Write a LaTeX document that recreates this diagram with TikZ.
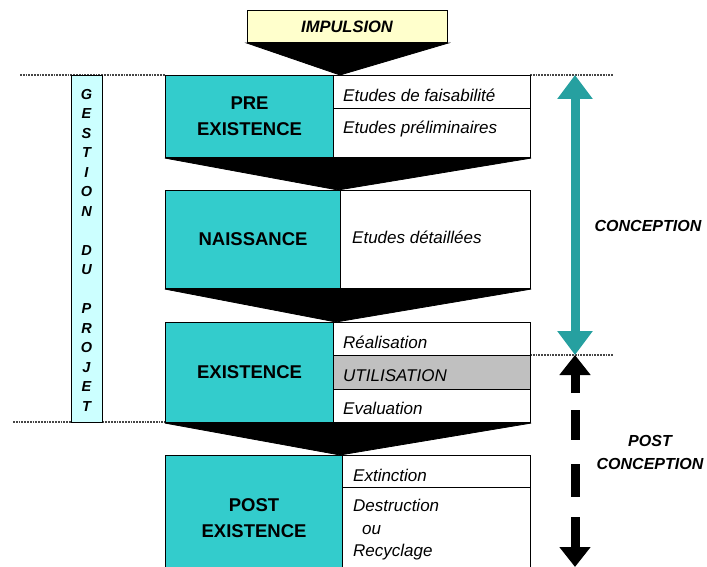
\documentclass[tikz,border=0pt]{standalone}
\usepackage{fontspec}
\setmainfont{Liberation Sans}
\usetikzlibrary{arrows.meta}
\definecolor{tealbox}{RGB}{51,204,204}
\definecolor{tealarrow}{RGB}{38,160,160}
\definecolor{lightcyan}{RGB}{204,255,255}
\definecolor{lightyellow}{RGB}{255,255,204}
\definecolor{rowgray}{RGB}{192,192,192}
\begin{document}
\begin{tikzpicture}[x=1pt,y=-1pt,
  phase/.style={draw=black, line width=1.1, fill=tealbox, anchor=north west, inner sep=0, align=center,
    font=\fontsize{18.5}{26}\selectfont\bfseries},
  rowbox/.style={draw=black, line width=1.1, fill=white, anchor=north west, inner sep=0},
  itxt/.style={anchor=base west, inner sep=0, font=\fontsize{17}{19}\selectfont\itshape},
  bitxt/.style={inner sep=0, font=\fontsize{16}{23}\selectfont\bfseries\itshape, align=center},
  funnel/.style={fill=black, draw=black, line width=0.8, line join=miter},
  guide/.style={draw=gray!55!black, line width=1.8, densely dotted},
  tealarr/.style={draw=tealarrow, line width=9},
  blkarr/.style={draw=black, line width=9},
]
\useasboundingbox (0,0) rectangle (707,567);
\clip (0,0) rectangle (707,567);

% guide lines
\draw[guide] (20,75) -- (165,75);
\draw[guide] (530,75) -- (613,75);
\draw[guide] (530,355) -- (613,355);
\draw[guide] (13,422) -- (165,422);

% project management bar
\node[draw=black, line width=1.1, fill=lightcyan, anchor=north west, inner sep=0,
      minimum width=31, minimum height=347] (gestion) at (71,75) {};
\node[inner sep=0, align=center, font=\fontsize{14.5}{19.5}\selectfont\bfseries\itshape] (gestiontxt) at (86.5,250)
  {G\\E\\S\\T\\I\\O\\N\\[19.5pt]D\\U\\[19.5pt]P\\R\\O\\J\\E\\T};

% impulsion
\node[draw=black, line width=1.1, fill=lightyellow, anchor=north west, inner sep=0,
      minimum width=200, minimum height=32] (imp) at (247,10) {};
\node[bitxt, font=\fontsize{16.5}{20}\selectfont\bfseries\itshape] (imptxt) at (347,27) {IMPULSION};
\fill[funnel] (imp.south west) -- (imp.south east) -- (340,75) -- cycle;

% PRE EXISTENCE
\node[phase, minimum width=168, minimum height=82] (pre) at (165,75) {PRE\\EXISTENCE};
\node[rowbox, minimum width=197, minimum height=33] (pre1) at (333,75) {};
\node[rowbox, minimum width=197, minimum height=49] (pre2) at (333,108) {};
\node[itxt] (pre1t) at (343,102) {Etudes de faisabilité};
\node[itxt] (pre2t) at (343,134) {Etudes préliminaires};
\fill[funnel] (pre.south west) -- (pre2.south east) -- (338,190) -- cycle;

% NAISSANCE
\node[phase, minimum width=175, minimum height=98] (nai) at (165,190) {NAISSANCE};
\node[rowbox, minimum width=190, minimum height=98] (nai1) at (340,190) {};
\node[itxt] (nai1t) at (352,243) {Etudes détaillées};
\fill[funnel] (nai.south west) -- (nai1.south east) -- (336,322) -- cycle;

% EXISTENCE
\node[phase, minimum width=168, minimum height=100] (exi) at (165,322) {EXISTENCE};
\node[rowbox, minimum width=197, minimum height=33] (exi1) at (333,322) {};
\node[rowbox, fill=rowgray, minimum width=197, minimum height=34] (exi2) at (333,355) {};
\node[rowbox, minimum width=197, minimum height=33] (exi3) at (333,389) {};
\node[itxt] (exi1t) at (343,348) {Réalisation};
\node[itxt] (exi2t) at (343,381) {UTILISATION};
\node[itxt] (exi3t) at (343,414) {Evaluation};
\fill[funnel] (exi.south west) -- (exi3.south east) -- (340,455) -- cycle;

% POST EXISTENCE
\node[phase, minimum width=177, minimum height=125] (post) at (165,455) {POST\\EXISTENCE};
\node[rowbox, minimum width=188, minimum height=32] (post1) at (342,455) {};
\node[rowbox, minimum width=188, minimum height=93] (post2) at (342,487) {};
\node[itxt] (post1t) at (353,481) {Extinction};
\node[itxt] (post2t) at (353,511) {Destruction};
\node[itxt] (post3t) at (362,534) {ou};
\node[itxt] (post4t) at (353,556) {Recyclage};

% conception arrow
\coordinate (ctop) at (575,75);
\coordinate (cbot) at (575,355);
\draw[tealarr, {Triangle[width=34pt,length=24pt]}-{Triangle[width=34pt,length=24pt]}] (ctop) -- (cbot);
\node[bitxt] (conc) at (648,226) {CONCEPTION};

% post conception dashed arrow
\coordinate (pa) at (575,393);
\coordinate (pb) at (575,410);
\coordinate (pc) at (575,440);
\coordinate (pd) at (575,464);
\coordinate (pe) at (575,497);
\coordinate (pf) at (575,517);
\coordinate (pbot) at (575,567);
\draw[blkarr, -{Triangle[width=30pt,length=20pt]}] (pa) -- (cbot);
\draw[blkarr] (pb) -- (pc);
\draw[blkarr] (pd) -- (pe);
\draw[blkarr, -{Triangle[width=30pt,length=20pt]}] (pf) -- (pbot);
\node[bitxt] (postc) at (650,452) {POST\\CONCEPTION};
\end{tikzpicture}
\end{document}
